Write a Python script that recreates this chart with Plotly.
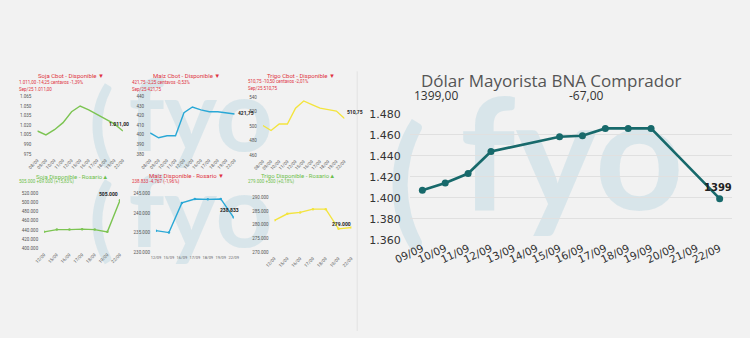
import plotly.graph_objects as go

W, H = 750, 338

# ---------------- data ----------------
cbot_dates = ["08/09", "09/09", "10/09", "11/09", "12/09", "15/09", "16/09", "17/09", "18/09", "19/09", "22/09"]
soja_cbot = [1011, 1005, 1013, 1024, 1041, 1050, 1044, 1037, 1030, 1022, 1011]
maiz_cbot = [402, 397, 399, 399, 423, 429, 426, 424, 424, 422.5, 421.75]
trigo_cbot = [501, 494, 503, 503, 525, 535, 530, 525, 523, 521, 510.75]

ros_dates = ["12/09", "15/09", "16/09", "17/09", "18/09", "19/09", "22/09"]
soja_ros = [436000, 441000, 441000, 442000, 441000, 436000, 505000]
maiz_ros = [235500, 235000, 242600, 243600, 243500, 243600, 238833]
trigo_ros = [281600, 284000, 284500, 285700, 285700, 278500, 279000]

dolar_dates = ["2025-09-09", "2025-09-10", "2025-09-11", "2025-09-12", "2025-09-15",
               "2025-09-16", "2025-09-17", "2025-09-18", "2025-09-19", "2025-09-22"]
dolar = [1407, 1414, 1423, 1444, 1458, 1459, 1466, 1466, 1466, 1399]

# ---------------- helpers ----------------
def px(x):
    return x / W

def py(y):
    return 1 - y / H

def es_num(v, dec=2, thousands=True):
    s = f"{v:,.{dec}f}" if thousands else f"{v:.{dec}f}"
    return s.replace(",", "X").replace(".", ",").replace("X", ".")

RED = "#e0323f"
GREEN = "#6dbf4a"
C_GREEN = "#7cc452"
C_BLUE = "#2aa8d6"
C_YELLOW = "#f3e43e"
BG = "#f2f2f2"

fig = go.Figure()

# watermark layer (first subplot, drawn beneath the others)
wm_col = "rgba(170,205,220,0.35)"
fig.add_trace(go.Scatter(x=[88, 190, 88, 190, 402, 572], y=[130, 125, 230, 225, 196, 172], mode="text",
                         text=["(", "fyo", "(", "fyo", "(", "fyo"],
                         textfont=dict(family="Lato", size=[90, 100, 90, 100, 140, 155], color=wm_col,
                                       weight="bold"),
                         xaxis="x", yaxis="y", hoverinfo="skip", showlegend=False))

small = [
    # (dates, values, color, x-dom px, y-dom px, yrange, dtick, tickangle, markers)
    (cbot_dates, soja_cbot, C_GREEN, (22, 110), (94, 154), (975, 1065), 15, -45, False),
    (cbot_dates, maiz_cbot, C_BLUE, (138, 225), (94, 154), (380, 440), 10, -45, False),
    (cbot_dates, trigo_cbot, C_YELLOW, (254, 338), (95, 155), (460, 540), 20, -45, False),
    (ros_dates, soja_ros, C_GREEN, (29, 107), (195, 252), (400000, 520000), 20000, -45, True),
    (ros_dates, maiz_ros, C_BLUE, (144, 224), (195, 256), (230000, 245000), 5000, 0, True),
    (ros_dates, trigo_ros, C_YELLOW, (266, 345), (199, 256), (270000, 290000), 5000, -45, True),
]

layout_axes = {}
layout_axes["xaxis"] = dict(domain=[0, 1], range=[0, W], visible=False, fixedrange=True)
layout_axes["yaxis"] = dict(domain=[0, 1], range=[H, 0], visible=False, fixedrange=True)

for i, (dates, vals, col, xd, yd, yr, dt, ang, mk) in enumerate(small):
    k = i + 2
    fig.add_trace(go.Scatter(x=dates, y=vals, mode="lines+markers" if mk else "lines",
                             line=dict(color=col, width=1.4),
                             marker=dict(size=2.5, color=col),
                             xaxis=f"x{k}", yaxis=f"y{k}", showlegend=False))
    layout_axes[f"xaxis{k}"] = dict(
        domain=[px(xd[0]), px(xd[1])], anchor=f"y{k}", type="category",
        range=[0, len(dates) - 1], showgrid=False, zeroline=False, showline=False,
        tickangle=ang, tickfont=dict(family="Roboto", size=4.5 if ang else 4, color="#666"),
        ticks="", ticklabelstandoff=2)
    layout_axes[f"yaxis{k}"] = dict(
        domain=[py(yd[1]), py(yd[0])], anchor=f"x{k}", range=list(yr), dtick=dt,
        tick0=yr[0], tickformat=",d", showgrid=False, zeroline=False, showline=False,
        tickfont=dict(family="Roboto", size=4.5, color="#555"), ticklabelstandoff=5)

# big chart
layout_axes["xaxis8"] = dict(
    domain=[px(405), px(737)], anchor="y8", type="date",
    range=["2025-09-08 10:40", "2025-09-22 13:20"], tick0="2025-09-09", dtick=86400000,
    tickformat="%d/%m", tickangle=-25, showgrid=False, zeroline=False, showline=False,
    tickfont=dict(family="DejaVu Sans", size=10.5, color="#333"), ticks="")
layout_axes["yaxis8"] = dict(
    domain=[py(243), py(112)], anchor="x8", range=[1360, 1480], dtick=20, tickformat=",d",
    showgrid=True, gridcolor="#e0e0e0", gridwidth=1, zeroline=False, showline=False,
    tickfont=dict(family="DejaVu Sans", size=11, color="#333"), ticklabelstandoff=8)

fig.add_trace(go.Scatter(x=dolar_dates, y=dolar, mode="lines+markers",
                         line=dict(color="#17696b", width=2.6),
                         marker=dict(size=7, color="#17696b"),
                         xaxis="x8", yaxis="y8", showlegend=False))

ann = []
# small chart titles / subtitles
titles = [
    ("Soja Cbot - Disponible ▼", RED, 57, 72),
    ("Maíz Cbot - Disponible ▼", RED, 175, 72),
    ("Trigo Cbot - Disponible ▼", RED, 293, 72),
    ("Soja Disponible - Rosario▲", GREEN, 58, 177),
    ("Maíz Disponible - Rosario ▼", RED, 175, 176),
    ("Trigo Disponible - Rosario▲", GREEN, 290, 176),
]
for t, c, x, y in titles:
    ann.append(dict(text=t, x=px(x), y=py(y), xref="paper", yref="paper", showarrow=False,
                    font=dict(family="Roboto", size=6, color=c), xanchor="center", yanchor="middle"))

subs = [
    ("1.011,00 -14,25 centavos -1,39%", "Sep/25 1.011,00", RED, 1, 80),
    ("421,75 -2,25 centavos -0,53%", "Sep/25 421,75", RED, 117, 80),
    ("510,75 -10,50 centavos -2,01%", "Sep/25 510,75", RED, 237, 79),
    ("505.000 +69.000 (+15,83%)", None, GREEN, 1, 183),
    ("238.833 -4.767 (-1,96%)", None, RED, 117, 183),
    ("279.000 +500 (+0,18%)", None, GREEN, 237, 183),
]
for l1, l2, c, x, y in subs:
    ann.append(dict(text=l1, x=px(x), y=py(y), xref="paper", yref="paper", showarrow=False,
                    font=dict(family="Roboto", size=4.5, color=c), xanchor="left", yanchor="middle"))
    if l2:
        ann.append(dict(text=l2, x=px(x), y=py(y + 7), xref="paper", yref="paper", showarrow=False,
                        font=dict(family="Roboto", size=4.5, color=c), xanchor="left", yanchor="middle"))

# last-value labels on small charts
lab_specs = [(2, soja_cbot, cbot_dates, 2, "center", -4, 7),
             (3, maiz_cbot, cbot_dates, 2, "left", 1, 1),
             (4, trigo_cbot, cbot_dates, 2, "left", 0, 6),
             (5, soja_ros, ros_dates, 0, "right", 0, 6),
             (6, maiz_ros, ros_dates, 0, "center", -4, 8),
             (7, trigo_ros, ros_dates, 0, "center", -10, 3)]
for k, vals, dates, dec, xa, xs, ys in lab_specs:
    ann.append(dict(text=f"<b>{es_num(vals[-1], dec)}</b>", x=dates[-1], y=vals[-1],
                    xref=f"x{k}", yref=f"y{k}", showarrow=False, xanchor=xa, yanchor="middle",
                    xshift=xs, yshift=ys, font=dict(family="Roboto", size=5, color="#222")))

# big chart texts
ann.append(dict(text="Dólar Mayorista BNA Comprador", x=px(550), y=py(77), xref="paper", yref="paper",
                showarrow=False, font=dict(family="Open Sans", size=17, color="#555"),
                xanchor="center", yanchor="middle"))
ann.append(dict(text=es_num(dolar[-1], 2, thousands=False), x=px(432), y=py(93), xref="paper", yref="paper",
                showarrow=False, font=dict(family="Open Sans", size=12, color="#333"),
                xanchor="center", yanchor="middle"))
ann.append(dict(text=es_num(dolar[-1] - dolar[-2], 2, thousands=False), x=px(587), y=py(93),
                xref="paper", yref="paper",
                showarrow=False, font=dict(family="Open Sans", size=12, color="#333"),
                xanchor="center", yanchor="middle"))
ann.append(dict(text=f"<b>{dolar[-1]}</b>", x=dolar_dates[-1], y=dolar[-1], xref="x8", yref="y8",
                showarrow=False, xanchor="center", yanchor="middle", xshift=-2, yshift=11,
                font=dict(family="DejaVu Sans", size=10, color="#222")))

shapes = [dict(type="line", xref="paper", yref="paper", x0=px(351), x1=px(351), y0=py(68), y1=0,
               line=dict(color="#e2e2e2", width=1))]

fig.update_layout(
    width=W, height=H, margin=dict(l=0, r=0, t=0, b=0),
    paper_bgcolor=BG, plot_bgcolor="rgba(0,0,0,0)",
    separators=",.", showlegend=False,
    annotations=ann, shapes=shapes,
    **layout_axes,
)

fig.write_html("out.html")
